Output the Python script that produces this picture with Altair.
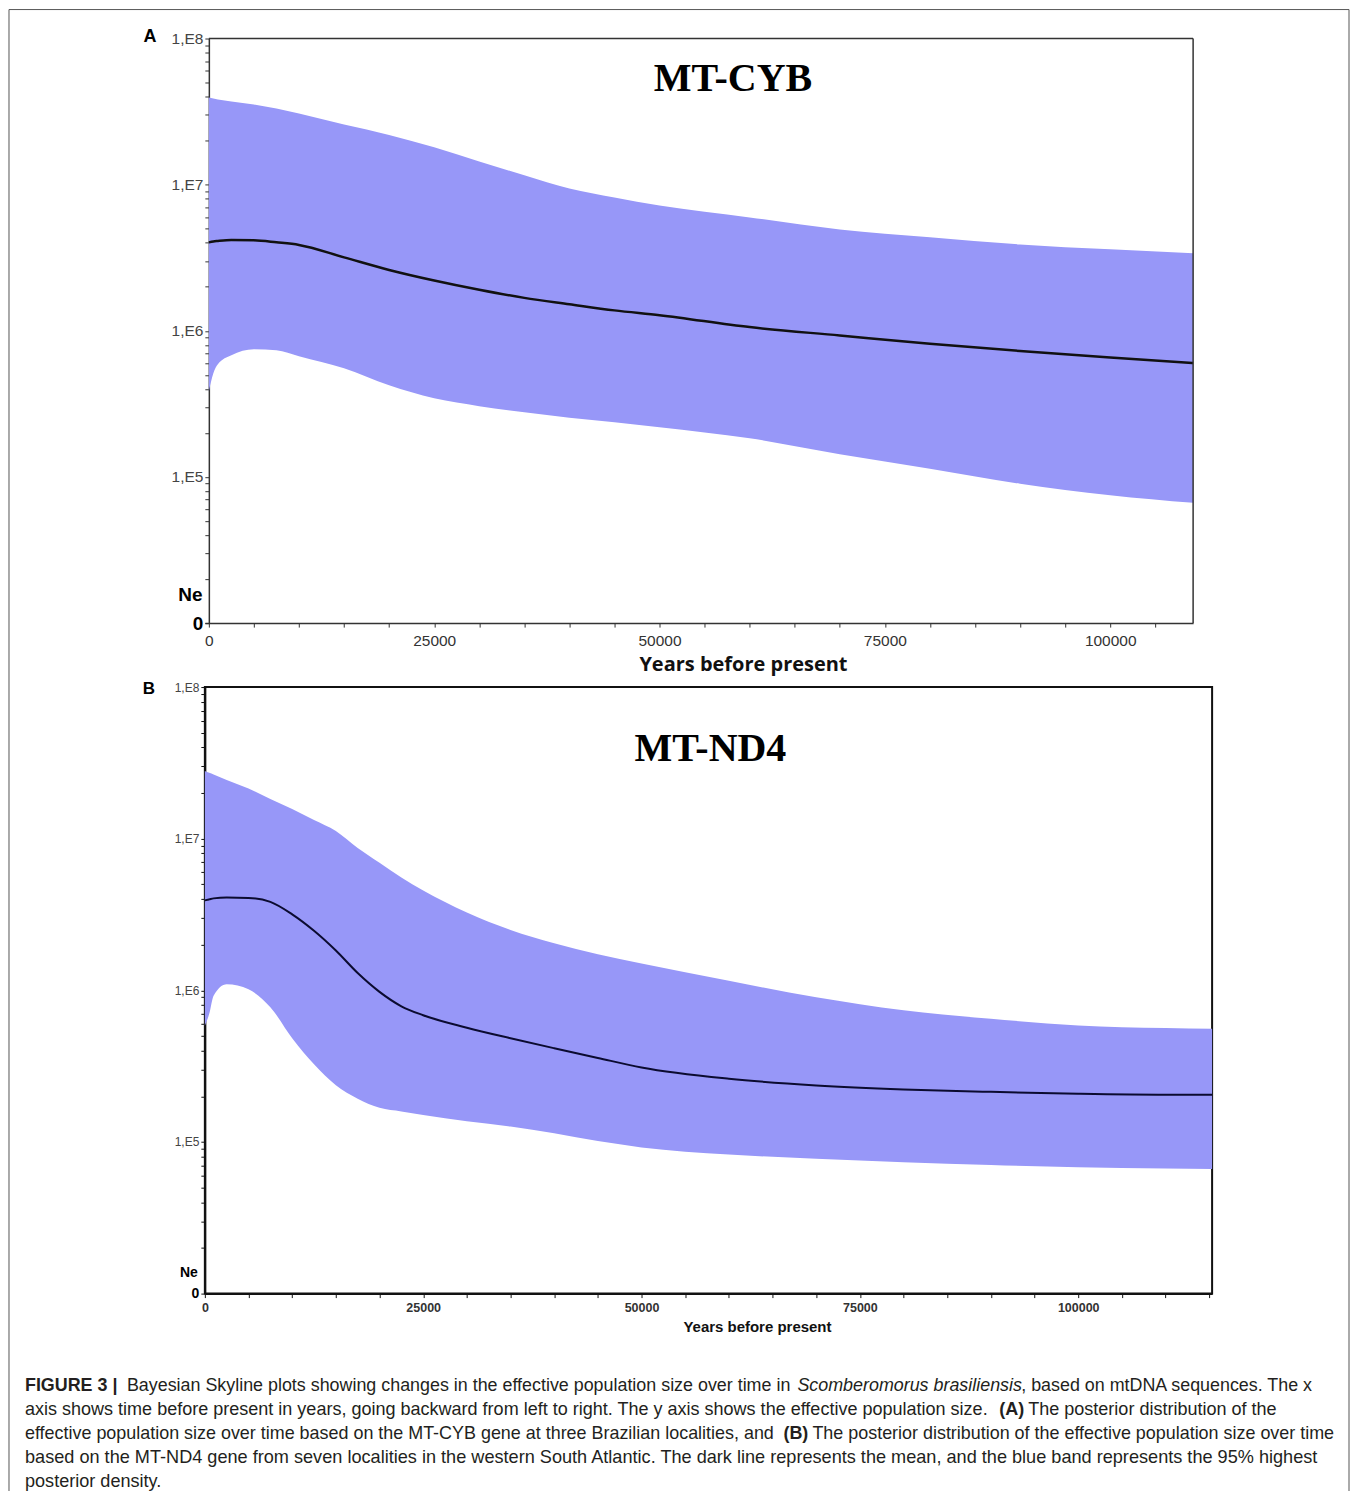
import altair as alt
import pandas as pd

# ---------------- data ----------------
YEARS_A = [0, 500, 1000, 2500, 5000, 7500, 10000, 15000, 20000, 25000, 30000, 35000,
           40000, 45000, 50000, 60000, 70000, 80000, 90000, 100000, 109200]
UPPER_A = [3.95e7, 3.89e7, 3.83e7, 3.71e7, 3.54e7, 3.32e7, 3.07e7, 2.58e7, 2.19e7, 1.80e7,
           1.44e7, 1.16e7, 9.42e6, 8.18e6, 7.21e6, 5.97e6, 4.94e6, 4.36e6, 3.90e6, 3.61e6, 3.39e6]
MEAN_A = [4.03e6, 4.09e6, 4.12e6, 4.18e6, 4.16e6, 4.03e6, 3.87e6, 3.18e6, 2.61e6, 2.21e6,
          1.91e6, 1.68e6, 1.52e6, 1.38e6, 1.28e6, 1.06e6, 9.29e5, 8.15e5, 7.28e5, 6.57e5, 6.02e5]
LOWER_A = [3.86e5, 5.12e5, 5.90e5, 6.80e5, 7.47e5, 7.36e5, 6.69e5, 5.54e5, 4.24e5, 3.45e5,
           3.05e5, 2.77e5, 2.54e5, 2.37e5, 2.19e5, 1.84e5, 1.43e5, 1.14e5, 8.99e4, 7.50e4, 6.65e4]

YEARS_B = [0, 500, 1000, 2500, 5000, 7500, 10000, 12500, 15000, 17500, 20000, 22500, 25000,
           30000, 35000, 40000, 45000, 50000, 60000, 70000, 80000, 90000, 100000, 110000, 115330]
UPPER_B = [2.80e7, 2.72e7, 2.65e7, 2.44e7, 2.14e7, 1.83e7, 1.57e7, 1.33e7, 1.125e7, 8.69e6,
           6.94e6, 5.55e6, 4.55e6, 3.26e6, 2.50e6, 2.04e6, 1.73e6, 1.50e6, 1.155e6, 8.99e5,
           7.38e5, 6.49e5, 5.87e5, 5.64e5, 5.58e5]
MEAN_B = [3.92e6, 3.98e6, 4.04e6, 4.09e6, 4.07e6, 3.83e6, 3.17e6, 2.47e6, 1.83e6, 1.30e6,
          9.77e5, 7.85e5, 6.85e5, 5.67e5, 4.83e5, 4.15e5, 3.58e5, 3.10e5, 2.61e5, 2.36e5,
          2.22e5, 2.14e5, 2.08e5, 2.05e5, 2.05e5]
LOWER_B = [5.83e5, 7.00e5, 9.20e5, 1.095e6, 1.015e6, 7.74e5, 4.83e5, 3.25e5, 2.37e5, 1.93e5,
           1.68e5, 1.59e5, 1.505e5, 1.37e5, 1.264e5, 1.14e5, 1.013e5, 9.21e4, 8.27e4, 7.74e4,
           7.36e4, 7.04e4, 6.81e4, 6.68e4, 6.63e4]

Y_TICKS = [k * 10 ** e for e in range(4, 8) for k in range(1, 10)] + [10 ** 8]
X_TICKS_A = list(range(0, 110000, 5000))
X_TICKS_B = list(range(0, 116000, 5000))

CAPTION_L1 = ["FIGURE 3 |",
              "Bayesian Skyline plots showing changes in the effective population size over time in",
              "Scomberomorus brasiliensis",
              ", based on mtDNA sequences. The x"]
CAPTION_L2 = ["axis shows time before present in years, going backward from left to right. The y axis shows the effective population size.",
              "(A)", "The posterior distribution of the"]
CAPTION_L3 = ["effective population size over time based on the MT-CYB gene at three Brazilian localities, and",
              "(B)", "The posterior distribution of the effective population size over time"]
CAPTION_L4 = ["based on the MT-ND4 gene from seven localities in the western South Atlantic. The dark line represents the mean, and the blue band represents the 95% highest"]
CAPTION_L5 = ["posterior density."]

BAND = "#9797F8"
SANS = "Liberation Sans"
SERIF = "Liberation Serif"

dummy = pd.DataFrame({"d": [0]})

LABEL_EXPR = ("datum.value == 10000 ? '0' : (abs(log(datum.value)/LN10 - round(log(datum.value)/LN10)) < 0.001"
              " ? '1,E' + round(log(datum.value)/LN10) : '')")
IS_ZERO = "datum.value == 10000"


def panel(years, lower, mean, upper, xmin, xmax, width, height, title, title_pos, letter,
          letter_pos, s):
    df = pd.DataFrame({"years": years, "lower": lower, "mean": mean, "upper": upper})
    xs = alt.Scale(domain=[xmin, xmax], nice=False, zero=False)
    ys = alt.Scale(type="log", domain=[1e4, 1e8], nice=False)
    xaxis = alt.Axis(values=s["xticks"], format="d",
                     labelExpr="datum.value % 25000 == 0 ? datum.label : ''",
                     labelFlush=False, labelOverlap=False, grid=False,
                     tickSize=4, tickColor=s["axis"], domainColor=s["axis"], domainWidth=s["dw"],
                     labelFont=SANS, labelFontSize=s["xlab"], labelFontWeight=s["xlabw"],
                     labelColor="#333", labelPadding=s["xpad"],
                     title="Years before present", titleFont=s["xtfont"], titleFontSize=s["xt"],
                     titleFontWeight="bold", titleColor="#111",
                     titleX=s["titleX"], titleY=s["titleY"], titleAlign="center",
                     titleBaseline="middle")
    yaxis = alt.Axis(values=Y_TICKS, labelExpr=LABEL_EXPR, labelOverlap=False, labelFlush=False,
                     grid=False, tickSize=4, tickColor=s["axis"], domainColor=s["axis"],
                     domainWidth=s["dw"], labelFont=SANS, offset=s["yoff"],
                     labelFontSize={"condition": {"test": IS_ZERO, "value": s["zero"]}, "value": s["ylab"]},
                     labelFontWeight={"condition": {"test": IS_ZERO, "value": "bold"}, "value": s["ylabw"]},
                     labelColor={"condition": {"test": IS_ZERO, "value": "#000"}, "value": "#444"},
                     labelPadding=2,
                     title="Ne", titleAngle=0, titleX=s["neX"], titleY=s["neY"], titleAlign="center",
                     titleBaseline="middle", titleFont=SANS, titleFontSize=s["ne"],
                     titleFontWeight="bold", titleColor="#000")
    base = alt.Chart(df)
    area = base.mark_area(interpolate="monotone", color=BAND, opacity=1).encode(
        x=alt.X("years:Q", scale=xs, axis=xaxis),
        y=alt.Y("lower:Q", scale=ys, axis=yaxis),
        y2="upper:Q",
    )
    line = base.mark_line(interpolate="monotone", color=s["line"], strokeWidth=s["lw"]).encode(
        x=alt.X("years:Q", scale=xs),
        y=alt.Y("mean:Q", scale=ys),
    )
    ttl = alt.Chart(dummy).mark_text(text=title, font=SERIF, fontSize=40, fontWeight="bold",
                                     align="center", baseline="alphabetic", color="#000").encode(
        x=alt.value(title_pos[0]), y=alt.value(title_pos[1]))
    let = alt.Chart(dummy).mark_text(text=letter, font=SANS, fontSize=s["letter"], fontWeight="bold",
                                     align="center", baseline="middle", color="#000").encode(
        x=alt.value(letter_pos[0]), y=alt.value(letter_pos[1]))
    layers = [area, line, ttl, let]
    if s["rules"]:
        # top and right edges of the plot frame (left edge is the y axis)
        left = s["rules"]
        layers.append(alt.Chart(dummy).mark_rule(color=s["axis"], strokeWidth=s["dw"]).encode(
            x=alt.value(left), x2=alt.value(width), y=alt.value(0)))
        layers.append(alt.Chart(dummy).mark_rule(color=s["axis"], strokeWidth=s["dw"]).encode(
            x=alt.value(width), y=alt.value(0), y2=alt.value(height)))
        view = alt.ViewBackground(stroke="transparent", fill="white")
    else:
        view = alt.ViewBackground(stroke=s["axis"], strokeWidth=s["dw"], fill="white")
    return alt.layer(*layers).properties(width=width, height=height, view=view)


styleA = dict(xticks=X_TICKS_A, axis="#333", dw=1.5, xlab=15.5, xlabw="normal", xpad=6,
              xtfont="Open Sans", xt=20, titleX=538.5, titleY=41, ylab=15.5, ylabw="normal",
              zero=19, neX=-19, neY=556, ne=19, line="#111", lw=2.5, letter=18, yoff=-4,
              rules=4)
styleB = dict(xticks=X_TICKS_B, axis="#111", dw=2, xlab=12.5, xlabw="bold", xpad=4,
              xtfont=SANS, xt=15, titleX=552.5, titleY=33, ylab=12, ylabw="normal",
              zero=14, neX=-16.5, neY=586, ne=14, line="#0b0b30", lw=2, letter=17, yoff=0,
              rules=0)

# panel A: its plot starts 4px right of panel B's; the extra 4px on the left is empty domain
panelA = panel(YEARS_A, LOWER_A, MEAN_A, UPPER_A, -443, 109200, 989, 585, "MT-CYB",
               (528.5, 53), "A", (-55, -1.5), styleA)
panelB = panel(YEARS_B, LOWER_B, MEAN_B, UPPER_B, 0, 115330, 1008, 607, "MT-ND4", (506, 74),
               "B", (-56, 1.5), styleB)

# caption (origin = left edge of panel B, 64px below it)
CAP_SIZES = [17.9, 18.05, 17.95, 18.15, 18.1]
CAP_COLOR = "#231f20"
LY = [28, 52.5, 76.5, 101, 125]


def seg(text, x, line, weight="normal", style="normal"):
    return alt.Chart(dummy).mark_text(text=text, font=SANS, fontSize=CAP_SIZES[line],
                                      fontWeight=weight, fontStyle=style, align="left",
                                      baseline="middle", color=CAP_COLOR).encode(
        x=alt.value(x), y=alt.value(LY[line]))


caption_layers = [
    seg(CAPTION_L1[0], -180, 0, weight="bold"),
    seg(CAPTION_L1[1], -78, 0),
    seg(CAPTION_L1[2], 593, 0, style="italic"),
    seg(CAPTION_L1[3], 817, 0),
    seg(CAPTION_L2[0], -180, 1),
    seg(CAPTION_L2[1], 795, 1, weight="bold"),
    seg(CAPTION_L2[2], 824, 1),
    seg(CAPTION_L3[0], -180, 2),
    seg(CAPTION_L3[1], 579, 2, weight="bold"),
    seg(CAPTION_L3[2], 608, 2),
    seg(CAPTION_L4[0], -180, 3),
    seg(CAPTION_L5[0], -180, 4),
]
# outer figure frame; its bottom edge runs past the page bottom, as in the reference
frame = alt.Chart(dummy).mark_rect(fillOpacity=0, stroke="#555", strokeWidth=1).encode(
    x=alt.value(-196), x2=alt.value(1145), y=alt.value(-1349), y2=alt.value(143))
caption = alt.layer(*caption_layers, frame).properties(width=1008, height=130)

chart = alt.vconcat(panelA, panelB, caption, spacing=64, bounds="flush").properties(
    padding={"left": 0, "top": 0, "right": 0, "bottom": -11}, background="white"
).configure_view(stroke="transparent")

chart.save("out.html", embed_options={"renderer": "svg", "actions": False})
